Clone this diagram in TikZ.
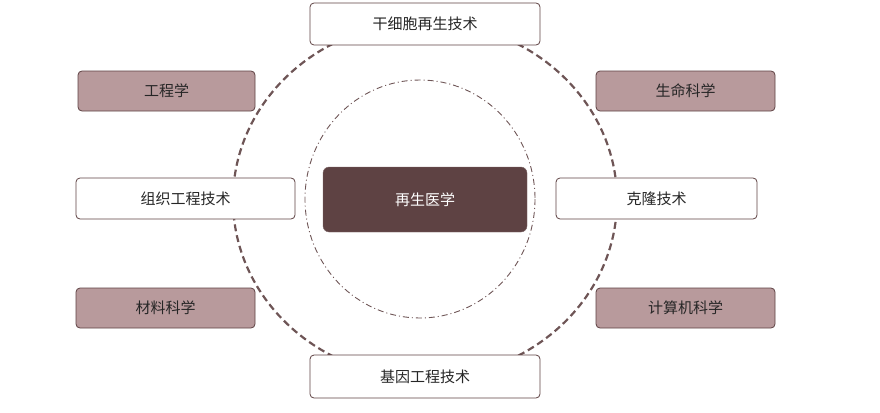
\documentclass[tikz,border=0pt]{standalone}
\usepackage{fontspec}
\newfontfamily\cjk{Noto Sans CJK SC}
\definecolor{darkrose}{HTML}{5E4243}
\definecolor{rosefill}{HTML}{B89A9C}
\definecolor{ringcol}{HTML}{6E5556}
\begin{document}
\begin{tikzpicture}[x=1pt,y=-1pt,
    whitebox/.style={rectangle, rounded corners=4pt, draw=darkrose, thick, fill=white, font=\cjk\fontsize{15}{15}\selectfont, text=black!85, inner sep=0pt},
    rosebox/.style={whitebox, fill=rosefill},
    corebox/.style={rectangle, rounded corners=6pt, draw=darkrose!80, fill=darkrose, font=\cjk\fontsize{15}{15}\selectfont, text=white, inner sep=0pt, minimum width=204pt, minimum height=65pt}
   ]
   \useasboundingbox (0,0) rectangle (880,412);
   \draw[ringcol, line width=2.2pt, dash pattern=on 7pt off 4pt] (425,200) ellipse [x radius=192, y radius=178];
   \draw[ringcol, line width=0.9pt, dash pattern=on 6pt off 3pt on 1pt off 3pt] (420,199) ellipse [x radius=115, y radius=119];

   \node[corebox] (core) at (425,199.5) {再生医学};
   \node[whitebox, minimum width=230pt, minimum height=42pt] (stem) at (425,24) {干细胞再生技术};
   \node[whitebox, minimum width=230pt, minimum height=43pt] (gene) at (425,376.5) {基因工程技术};
   \node[rosebox, minimum width=177pt, minimum height=40pt] (eng) at (166.5,91) {工程学};
   \node[rosebox, minimum width=179pt, minimum height=40pt] (life) at (685.5,91) {生命科学};
   \node[whitebox, minimum width=219pt, minimum height=41pt] (tissue) at (185.5,198.5) {组织工程技术};
   \node[whitebox, minimum width=201pt, minimum height=41pt] (clone) at (656.5,198.5) {克隆技术};
   \node[rosebox, minimum width=179pt, minimum height=40pt] (mat) at (165.5,308) {材料科学};
   \node[rosebox, minimum width=179pt, minimum height=40pt] (comp) at (685.5,308) {计算机科学};
 \end{tikzpicture}
\end{document}
